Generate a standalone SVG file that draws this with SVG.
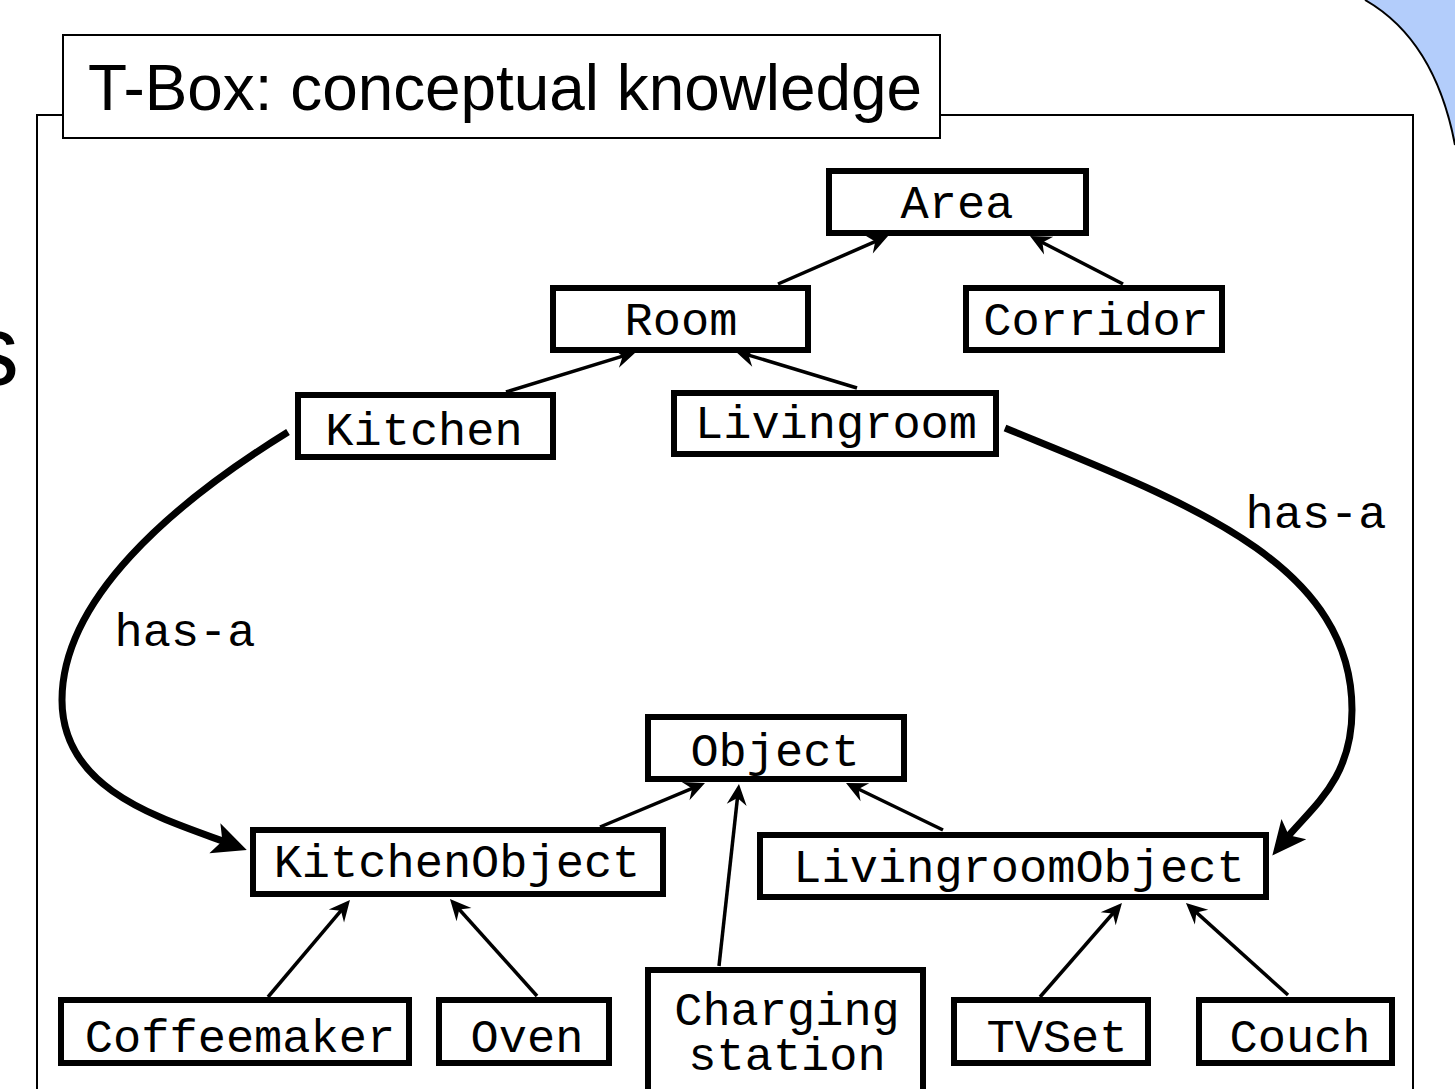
<svg xmlns="http://www.w3.org/2000/svg" width="1455" height="1089" viewBox="0 0 1455 1089">
<defs>
<style>
.node rect{fill:#fff;stroke:#000;stroke-width:6}
.node text,.lbl{font-family:"Liberation Mono","Courier New",monospace;font-size:47px;fill:#000;text-anchor:middle}
.thin{stroke:#000;stroke-width:3.5;fill:none;marker-end:url(#ah)}
.thick{stroke:#000;stroke-width:7;fill:none;marker-end:url(#ahb)}
</style>
<marker id="ah" markerUnits="userSpaceOnUse" orient="auto" markerWidth="40" markerHeight="40" viewBox="-20 -20 40 40" refX="0" refY="0" overflow="visible">
<path d="M8,0 L-13,-10 L-6,0 L-13,10 Z" fill="#000"/>
</marker>
<marker id="ahb" markerUnits="userSpaceOnUse" orient="auto" markerWidth="70" markerHeight="70" viewBox="-35 -35 70 70" refX="0" refY="0" overflow="visible">
<path d="M20,0 L-14,-16 L-6,0 L-14,16 Z" fill="#000"/>
</marker>
</defs>
<rect x="0" y="0" width="1455" height="1089" fill="#fff"/>
<path d="M1365,0 Q1435,40 1455,145 L1455,0 Z" fill="#b3cdfb"/>
<path d="M1365,0 Q1435,40 1455,145" fill="none" stroke="#000" stroke-width="2"/>
<text x="-31" y="385" font-family="'Liberation Sans',Arial,sans-serif" font-size="100" fill="#000">s</text>
<g id="frame">
<path d="M37,1089 L37,115 L63,115 M940,115 L1413,115 L1413,1089" fill="none" stroke="#000" stroke-width="2"/>
<rect x="63" y="35" width="877" height="103" fill="#fff" stroke="#000" stroke-width="2"/>
<text x="88" y="110" font-family="'Liberation Sans',Arial,sans-serif" font-size="65" textLength="834" lengthAdjust="spacingAndGlyphs" fill="#000">T-Box: conceptual knowledge</text>
</g>
<g id="connectors">
<line class="thin" x1="778" y1="284" x2="880.7" y2="239.2"/>
<line class="thin" x1="1123" y1="284" x2="1037.1" y2="239.7"/>
<line class="thin" x1="506" y1="392" x2="628.4" y2="354.4"/>
<line class="thin" x1="857" y1="388" x2="742.7" y2="353.3"/>
<line class="thin" x1="600" y1="827" x2="697.6" y2="786.1"/>
<line class="thin" x1="719" y1="966" x2="738.1" y2="792"/>
<line class="thin" x1="943" y1="830" x2="853.2" y2="786.5"/>
<line class="thin" x1="268" y1="997" x2="344.8" y2="906.1"/>
<line class="thin" x1="537" y1="996" x2="455.3" y2="905"/>
<line class="thin" x1="1040" y1="997" x2="1116.7" y2="909"/>
<line class="thin" x1="1288" y1="995" x2="1191.9" y2="908.4"/>
<path class="thick" d="M288,432 C170,505 62,600 62,700 C62,790 160,818 228,843"/>
<path class="thick" d="M1005,428 C1180,500 1352,560 1352,710 C1352,780 1312,807 1285,840"/>
<text class="lbl" x="185" y="646">has-a</text>
<text class="lbl" x="1316" y="528">has-a</text>
</g>
<g id="area" class="node"><rect x="829" y="171" width="257" height="62"/><text x="957" y="218">Area</text></g>
<g id="room" class="node"><rect x="553" y="288" width="255" height="62"/><text x="681" y="335">Room</text></g>
<g id="corridor" class="node"><rect x="966" y="288" width="256" height="62"/><text x="1096" y="335">Corridor</text></g>
<g id="kitchen" class="node"><rect x="298" y="395" width="255" height="62"/><text x="424" y="445">Kitchen</text></g>
<g id="livingroom" class="node"><rect x="674" y="393" width="322" height="61"/><text x="836" y="438">Livingroom</text></g>
<g id="object" class="node"><rect x="648" y="717" width="256" height="62"/><text x="775" y="766">Object</text></g>
<g id="kitchenobject" class="node"><rect x="253" y="830" width="410" height="64"/><text x="457" y="877">KitchenObject</text></g>
<g id="livingroomobject" class="node"><rect x="760" y="835" width="506" height="62"/><text x="1019" y="882">LivingroomObject</text></g>
<g id="coffeemaker" class="node"><rect x="61" y="1000" width="348" height="63"/><text x="240" y="1052">Coffeemaker</text></g>
<g id="oven" class="node"><rect x="439" y="1000" width="170" height="63"/><text x="527" y="1052">Oven</text></g>
<g id="chargingstation" class="node"><rect x="648" y="970" width="275" height="140"/><text x="787" y="1025">Charging</text><text x="787" y="1070">station</text></g>
<g id="tvset" class="node"><rect x="954" y="1000" width="194" height="63"/><text x="1057" y="1052">TVSet</text></g>
<g id="couch" class="node"><rect x="1199" y="1000" width="193" height="63"/><text x="1300" y="1052">Couch</text></g>
</svg>
